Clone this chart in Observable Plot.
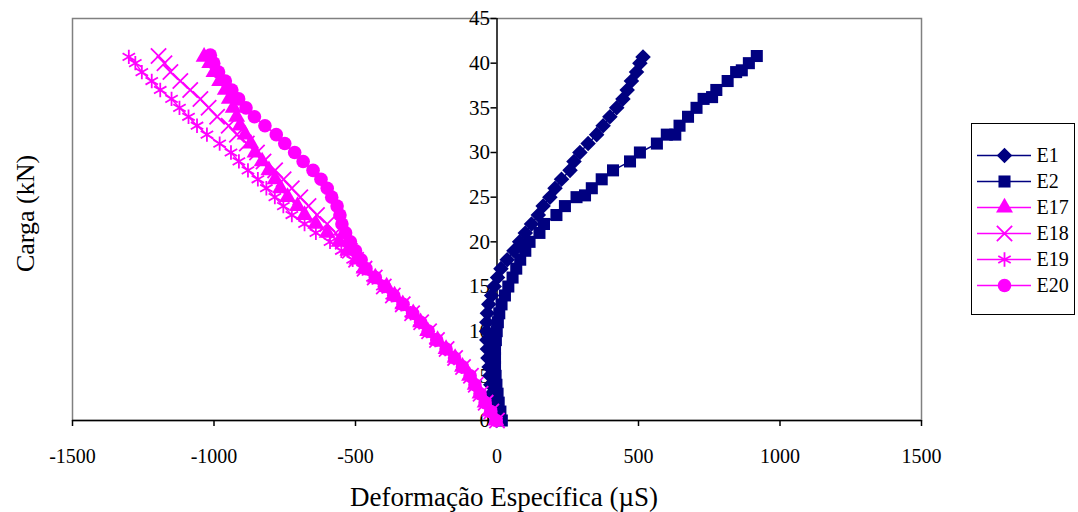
<!DOCTYPE html>
<html><head><meta charset="utf-8">
<script src="https://cdn.jsdelivr.net/npm/d3@7"></script>
<script src="https://cdn.jsdelivr.net/npm/@observablehq/plot@0.6"></script>
<style>
body{margin:0;background:#fff;}
#wrap{position:relative;width:1078px;height:512px;font-family:"Liberation Serif","Times New Roman",serif;}
#legend{position:absolute;left:971px;top:123px;width:102px;height:190px;border:1.5px solid #000;background:#fff;}
</style></head><body><div id="wrap"><div id="chart"></div><div id="legend"></div></div>
<script>
const seriesNames = ["E1","E2","E17","E18","E19","E20"];
const seriesColors = ["#000080","#000080","#FF00FF","#FF00FF","#FF00FF","#FF00FF"];
const seriesSymbols = ["diamond2","square","triangle","times","asterisk","circle"];
const seriesRadius = [7,6.8,6.3,7,6.8,6.8];
const xTicks = [-1500,-1000,-500,0,500,1000,1500];
const yTicks = [0,5,10,15,20,25,30,35,40,45];
const xTitle = "Deformação Específica (µS)";
const yTitle = "Carga (kN)";

const loadE1 = [0,1,2,3,4,5,6,7,8,9,10,11,12,13,14,15,16,17,18,19,20,21,22,23,24,25,26,27,28,29,30,31,32,33,34,35,36,37,38,39,40,40.7];
const strainE1 = [-1,-10,-15,-19,-22,-25,-28,-32,-34,-36,-37,-36,-34,-29,-19,-10,2,14,36,60,80,100,122,146,163,187,205,228,258,272,293,322,352,375,399,423,445,460,475,493,505,516];

const loadE2 = [0,1,2,3,4,5,6,7,8,9,10,11,12,13,14,15,16,17,18,19,20,21,22,23,24,25,25.2,26,27,28,29,30,31,32,32,33,34,35,36,36.2,37,38,39,39.2,40,40.8];
const strainE2 = [17,12,6,2,-2,-5,-7,-7,-7,-4,-1,3,8,16,28,40,55,68,82,100,115,150,166,210,240,281,311,335,370,410,470,505,565,600,630,645,675,705,730,760,775,815,845,865,890,918];

const loadE17 = [0,1,2,3,4,5,6,7,8,9,10,11,12,13,14,15,16,17,18,19,20,21,22,23,24,25,26,27,28,29,30,31,32,33,34,35,36,37,38,39,40,40.7];
const strainE17 = [-4,-26,-42,-60,-77,-97,-122,-148,-180,-210,-245,-270,-296,-333,-362,-390,-430,-470,-495,-527,-558,-600,-640,-680,-705,-740,-765,-784,-806,-830,-855,-870,-890,-908,-920,-932,-946,-960,-980,-1000,-1015,-1035];

const loadE18 = [0,1,2,3,4,5,6,7,8,9,10,11,12,13,14,15,16,17,18,19,20,21,22,23,24,25,26,27,28,29,30,31,32,33,34,35,36,37,38,39,40,40.8];
const strainE18 = [0,-20,-40,-58,-75,-92,-120,-148,-178,-212,-240,-268,-300,-333,-368,-400,-432,-468,-498,-520,-545,-570,-600,-636,-666,-695,-725,-754,-784,-825,-848,-884,-919,-948,-989,-1019,-1048,-1084,-1119,-1154,-1175,-1196];

const loadE19 = [0,1,2,3,4,5,6,7,8,9,10,11,12,13,14,15,16,17,18,19,20,21,22,23,24,25,26,27,28,29,30,31,32,33,34,35,36,37,38,39,40,40.7];
const strainE19 = [-2,-22,-42,-60,-80,-98,-125,-152,-183,-218,-248,-275,-305,-338,-372,-405,-440,-475,-510,-550,-590,-640,-680,-725,-755,-785,-815,-845,-880,-912,-940,-980,-1025,-1060,-1090,-1122,-1150,-1190,-1220,-1255,-1278,-1301];

const loadE20 = [0,1,2,3,4,5,6,7,8,9,10,11,12,13,14,15,16,17,18,19,20,21,22,23,24,25,26,27,28,29,30,31,32,33,34,35,36,37,38,39,40,40.9];
const strainE20 = [-3,-22,-42,-60,-78,-95,-122,-150,-180,-213,-243,-270,-298,-332,-365,-398,-430,-463,-480,-500,-518,-535,-548,-555,-565,-584,-600,-622,-650,-685,-715,-750,-780,-820,-857,-887,-913,-937,-960,-984,-1001,-1013];

const loads = [loadE1, loadE2, loadE17, loadE18, loadE19, loadE20];
const strains = [strainE1, strainE2, strainE17, strainE18, strainE19, strainE20];

const serif = "'Liberation Serif','Times New Roman',serif";
const filledSymbols = new Set(["diamond2","square","triangle","circle"]);
function dotStyle(i) {
  const filled = filledSymbols.has(seriesSymbols[i]);
  return filled
    ? {fill: seriesColors[i], stroke: "none"}
    : {fill: "none", stroke: seriesColors[i], strokeWidth: 1.8};
}

const seriesMarks = [];
seriesNames.forEach((name, i) => {
  const rows = loads[i].map((y, j) => ({x: strains[i][j], y}));
  seriesMarks.push(Plot.line(rows, {x: "x", y: "y", stroke: seriesColors[i], strokeWidth: 1.5}));
  seriesMarks.push(Plot.dot(rows, {x: "x", y: "y", symbol: seriesSymbols[i], r: seriesRadius[i], ...dotStyle(i)}));
});

const chart = Plot.plot({
  width: 1078,
  height: 512,
  marginLeft: 72,
  marginRight: 157,
  marginTop: 18,
  marginBottom: 92,
  style: {fontFamily: serif, color: "#000", background: "#fff"},
  x: {domain: [-1500, 1500]},
  y: {domain: [0, 45]},
  marks: [
    Plot.frame({stroke: "#808080", strokeWidth: 1.5}),
    Plot.ruleX([0], {stroke: "#000", strokeWidth: 1.5}),
    Plot.ruleY([0], {stroke: "#000", strokeWidth: 1.5}),
    Plot.axisX(xTicks, {tickSize: 6, tickPadding: 22, fontSize: 20, fontFamily: serif, tickFormat: d => String(d), label: null, stroke: "#000", strokeWidth: 1.5}),
    Plot.axisY(yTicks, {x: 0, anchor: "left", tickSize: 6, tickPadding: 1, fontSize: 21, fontFamily: serif, tickFormat: d => String(d), label: null, stroke: "#000", strokeWidth: 1.5}),
    ...seriesMarks,
    Plot.text([xTitle], {frameAnchor: "bottom", textAnchor: "middle", lineAnchor: "middle", dx: 7, dy: 77, fontSize: 27, fontFamily: serif, fill: "#000"}),
    Plot.text([yTitle], {frameAnchor: "left", textAnchor: "middle", lineAnchor: "middle", dx: -47, dy: -6, rotate: -90, fontSize: 26, fontFamily: serif, fill: "#000"})
  ]
});
document.getElementById("chart").appendChild(chart);

const legendMarks = [];
seriesNames.forEach((name, i) => {
  legendMarks.push(Plot.ruleY([name], {y: d => d, stroke: seriesColors[i], strokeWidth: 1.5}));
  legendMarks.push(Plot.dot([name], {y: d => d, symbol: seriesSymbols[i], r: seriesRadius[i], ...dotStyle(i)}));
  legendMarks.push(Plot.text([name], {y: d => d, text: d => d, frameAnchor: "right", dx: 5, textAnchor: "start", fontSize: 20, fontFamily: serif, fill: "#000"}));
});
const legend = Plot.plot({
  width: 102,
  height: 190,
  marginLeft: 5,
  marginRight: 43,
  marginTop: 0,
  marginBottom: 0,
  style: {fontFamily: serif, color: "#000", background: "transparent", overflow: "visible"},
  x: {domain: [0, 1], axis: null},
  y: {type: "point", domain: seriesNames, range: [16, 176], axis: null},
  marks: legendMarks
});
document.getElementById("legend").appendChild(legend);
</script>
</body></html>
